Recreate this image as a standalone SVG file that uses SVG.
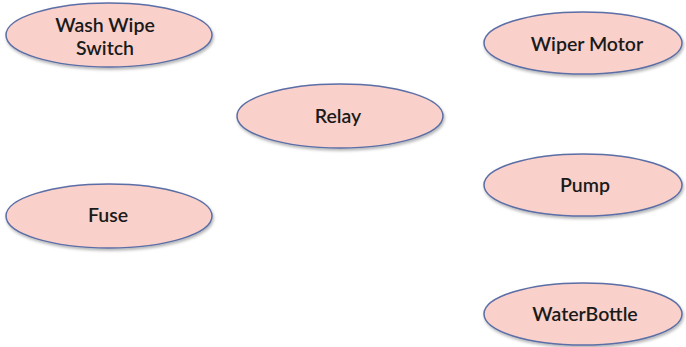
<svg xmlns="http://www.w3.org/2000/svg" width="686" height="347" viewBox="0 0 686 347">
<defs>
<style>
.n ellipse{fill:#f9d0ca;stroke:#5b6ea6;stroke-width:1.5;filter:url(#sh)}
.n text{font-family:"Lato","Liberation Sans",sans-serif;font-size:19.5px;font-weight:600;fill:#1a1a1a;text-anchor:middle}
</style>
<filter id="sh" x="-10%" y="-20%" width="120%" height="150%">
<feDropShadow dx="1" dy="2" stdDeviation="1.5" flood-color="#000" flood-opacity="0.3"/>
</filter>
</defs>
<rect width="686" height="347" fill="#fff"/>
<g id="connectors"></g>
<g id="wash-wipe-switch" class="n"><ellipse cx="109" cy="35" rx="103" ry="32"/><text x="105" y="32">Wash Wipe</text><text x="105" y="55">Switch</text></g>
<g id="relay" class="n"><ellipse cx="340" cy="116" rx="103" ry="32"/><text x="338" y="123">Relay</text></g>
<g id="wiper-motor" class="n"><ellipse cx="583" cy="43" rx="99" ry="31"/><text x="587" y="51">Wiper Motor</text></g>
<g id="pump" class="n"><ellipse cx="583" cy="185" rx="99" ry="31"/><text x="585" y="192">Pump</text></g>
<g id="fuse" class="n"><ellipse cx="109" cy="216" rx="103" ry="32"/><text x="108" y="222">Fuse</text></g>
<g id="waterbottle" class="n"><ellipse cx="583" cy="314" rx="99" ry="31"/><text x="585" y="321">WaterBottle</text></g>
</svg>
